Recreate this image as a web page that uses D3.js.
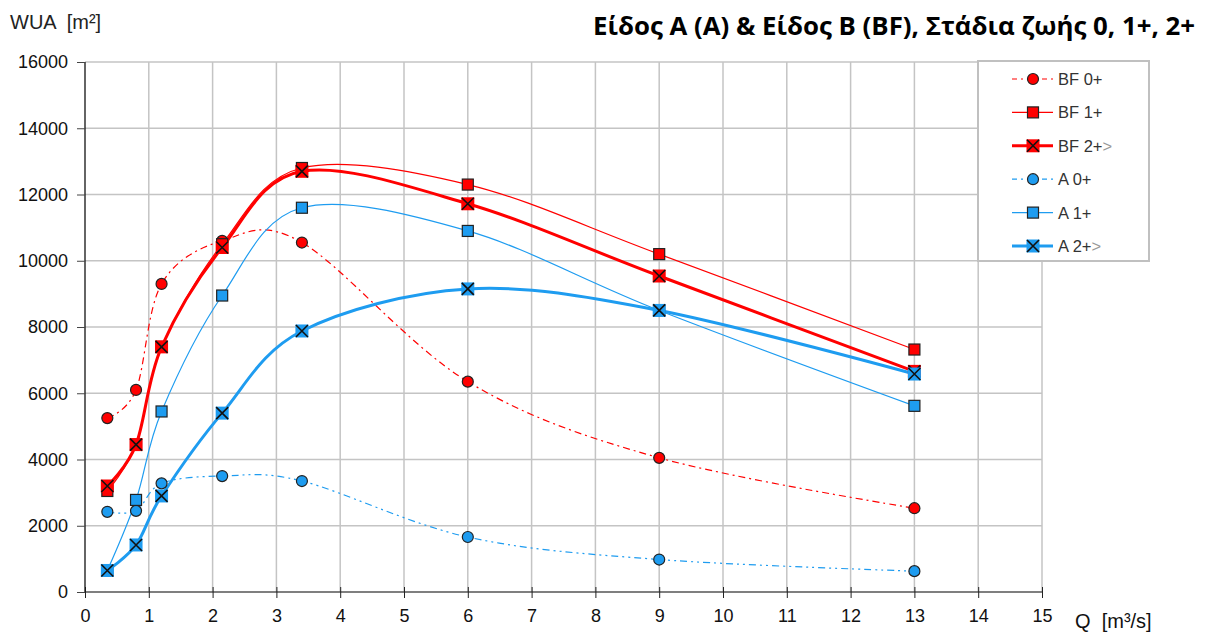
<!DOCTYPE html>
<html><head><meta charset="utf-8">
<script src="https://cdn.jsdelivr.net/npm/d3@7"></script>
<style>body{margin:0;background:#fff}svg{display:block}</style>
</head><body><svg id="c" width="1207" height="632"></svg>
<script>
const xValues = [0.35, 0.8, 1.2, 2.15, 3.4, 6, 9, 13];
const bf0 = [5250, 6100, 9300, 10600, 10550, 6350, 4050, 2530];
const bf1 = [3050, 4450, 7400, 10500, 12800, 12300, 10200, 7320];
const bf2 = [3200, 4450, 7400, 10400, 12700, 11720, 9540, 6660];
const a0 = [2420, 2450, 3280, 3500, 3350, 1660, 980, 630];
const a1 = [650, 2780, 5450, 8950, 11600, 10900, 8500, 5620];
const a2 = [650, 1420, 2900, 5400, 7880, 9150, 8500, 6580];
const xTicks = d3.range(0, 16, 1);
const yTicks = d3.range(0, 16001, 2000);
const seriesNames = ["BF 0+", "BF 1+", "BF 2+>", "A 0+", "A 1+", "A 2+>"];
const titleText = "Είδος Α (A) & Είδος Β (BF), Στάδια ζωής 0, 1+, 2+";

const RED = "#ff0000", BLUE = "#1e9cf0";
const series = [
  {name: seriesNames[0], vals: bf0, color: RED, w: 1.2, dash: "7,4,2,4", marker: "circle"},
  {name: seriesNames[1], vals: bf1, color: RED, w: 1.2, dash: null, marker: "square"},
  {name: seriesNames[2], vals: bf2, color: RED, w: 3, dash: null, marker: "cross"},
  {name: seriesNames[3], vals: a0, color: BLUE, w: 1.2, dash: "7,4,2,4,2,4", marker: "circle"},
  {name: seriesNames[4], vals: a1, color: BLUE, w: 1.2, dash: null, marker: "square"},
  {name: seriesNames[5], vals: a2, color: BLUE, w: 3, dash: null, marker: "cross"}
];

const svg = d3.select("#c");
const L = 85, R = 1042, T = 62, B = 592;
const x = d3.scaleLinear().domain([0, 15]).range([L, R]);
const y = d3.scaleLinear().domain([0, 16000]).range([B, T]);
const font = "'Liberation Sans', Arial, sans-serif";

// grid
const g = svg.append("g");
g.selectAll(".vg").data(xTicks.slice(1)).join("line")
  .attr("x1", d => x(d)).attr("x2", d => x(d)).attr("y1", T).attr("y2", B)
  .attr("stroke", "#c4c4c4").attr("stroke-width", 1.5);
g.selectAll(".hg").data(yTicks.slice(1)).join("line")
  .attr("x1", L).attr("x2", R).attr("y1", d => y(d)).attr("y2", d => y(d))
  .attr("stroke", "#c4c4c4").attr("stroke-width", 1.5);

// axes
const xAxis = svg.append("g").attr("transform", `translate(0,${B})`)
  .call(d3.axisBottom(x).tickValues(xTicks).tickSize(6).tickFormat(d3.format("d")));
xAxis.select(".domain").attr("stroke", "#555").attr("stroke-width", 1.5).attr("d", `M${L},0H${R}`);
xAxis.selectAll(".tick line").attr("y1", -5).attr("y2", 6).attr("stroke", "#222");
xAxis.selectAll("text").attr("font-family", font).attr("font-size", 18).attr("fill", "#111").attr("y", 11).attr("dy", "1.05em");

const yAxis = svg.append("g").attr("transform", `translate(${L},0)`)
  .call(d3.axisLeft(y).tickValues(yTicks).tickSize(6).tickFormat(d3.format("d")));
yAxis.select(".domain").attr("stroke", "#111").attr("stroke-width", 1.3).attr("d", `M0,${T}V${B}`);
yAxis.selectAll(".tick line").attr("stroke", "#444").attr("x1", -8).attr("x2", 0);
yAxis.selectAll("text").attr("font-family", font).attr("font-size", 18).attr("fill", "#111").attr("x", -17);

svg.append("text").attr("x", 10).attr("y", 29).attr("font-family", font).attr("font-size", 20)
  .attr("fill", "#222").attr("xml:space", "preserve").text("WUA  [m²]");
svg.append("text").attr("x", 1075).attr("y", 628).attr("font-family", font).attr("font-size", 20)
  .attr("fill", "#111").attr("xml:space", "preserve").text("Q  [m³/s]");
svg.append("text").attr("x", 1195).attr("y", 35).attr("text-anchor", "end")
  .attr("font-family", "'Open Sans', 'Noto Sans', sans-serif").attr("font-weight", "bold").attr("font-size", 25)
  .attr("fill", "#000").attr("textLength", 602).attr("lengthAdjust", "spacingAndGlyphs").text(titleText);

// lines
const line = d3.line().x((d, i) => x(xValues[i])).y(d => y(d)).curve(d3.curveCardinal.tension(0));
const plot = svg.append("g");
function drawMarker(sel, type, color, cx, cy) {
  if (type === "circle") {
    sel.append("circle").attr("cx", cx).attr("cy", cy).attr("r", 5.5)
      .attr("fill", color).attr("stroke", "#222").attr("stroke-width", 1.2);
  } else if (type === "square") {
    sel.append("rect").attr("x", cx - 5.5).attr("y", cy - 5.5).attr("width", 11).attr("height", 11)
      .attr("fill", color).attr("stroke", "#222").attr("stroke-width", 1.2);
  } else {
    sel.append("rect").attr("x", cx - 6.5).attr("y", cy - 6.5).attr("width", 13).attr("height", 13)
      .attr("fill", color);
    sel.append("path").attr("d", `M${cx-6},${cy-6}L${cx+6},${cy+6}M${cx-6},${cy+6}L${cx+6},${cy-6}`)
      .attr("stroke", "#111").attr("stroke-width", 1.6);
  }
}
series.forEach(s => {
  plot.append("path").datum(s.vals).attr("d", line).attr("fill", "none")
    .attr("stroke", s.color).attr("stroke-width", s.w)
    .attr("stroke-dasharray", s.dash);
});
series.forEach(s => {
  const mg = plot.append("g");
  s.vals.forEach((v, i) => drawMarker(mg, s.marker, s.color, x(xValues[i]), y(v)));
});

// legend
const lg = svg.append("g");
lg.append("rect").attr("x", 978).attr("y", 61).attr("width", 171).attr("height", 200)
  .attr("fill", "#fff").attr("stroke", "#c0c0c0").attr("stroke-width", 2);
series.forEach((s, i) => {
  const cy = 79 + i * 33.4;
  lg.append("line").attr("x1", 1012).attr("x2", 1053).attr("y1", cy).attr("y2", cy)
    .attr("stroke", s.color).attr("stroke-width", s.w).attr("stroke-dasharray", s.dash ? "5,4,2,4" : null);
  drawMarker(lg, s.marker, s.color, 1033, cy);
  const t = lg.append("text").attr("x", 1058).attr("y", cy + 6).attr("font-family", font)
    .attr("font-size", 16.5).attr("fill", "#333");
  if (s.name.endsWith(">")) {
    t.append("tspan").text(s.name.slice(0, -1));
    t.append("tspan").attr("fill", "#999").text(">");
  } else t.text(s.name);
});
</script></body></html>
